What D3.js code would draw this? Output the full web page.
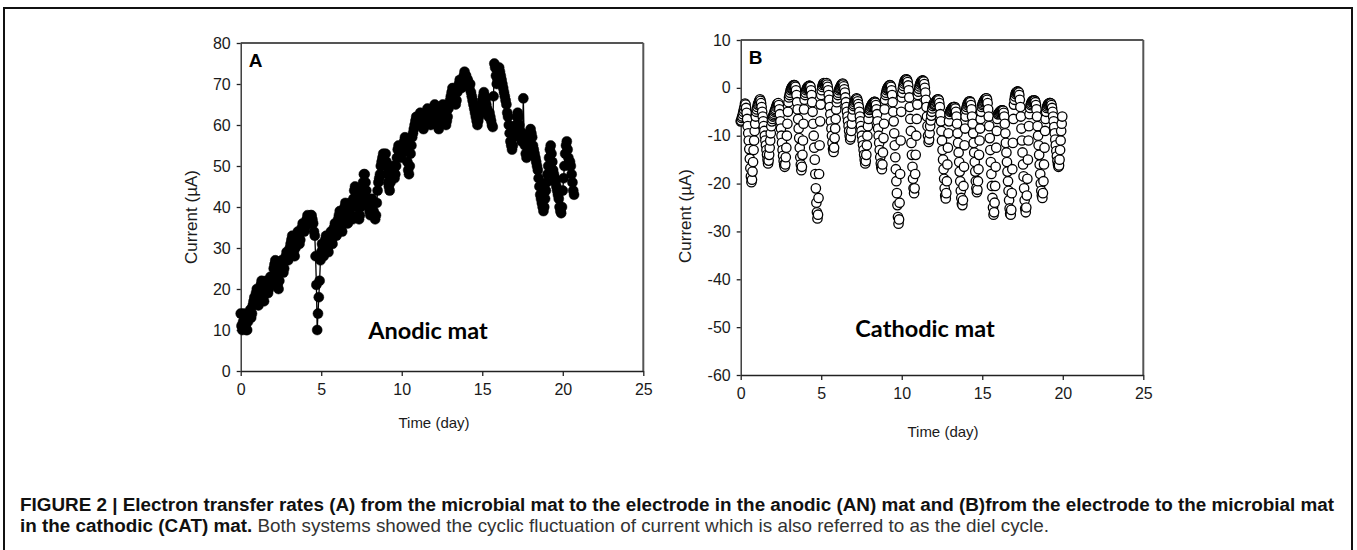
<!DOCTYPE html>
<html>
<head>
<meta charset="utf-8">
<script src="https://cdn.jsdelivr.net/npm/d3@7/dist/d3.min.js"></script>
<style>
  body { margin: 0; background: #fff; }
  svg { display: block; }
</style>
</head>
<body>
<svg id="fig" width="1357" height="550"></svg>
<script>
// Figure 2: electron transfer rates, anodic (A) and cathodic (B) mats.
// Current; sample i sits at t = i * step (days).
var STEP_A = 1 / 20;
var STEP_B = 1 / 30;

// panel A, anodic mat (uA), 20 samples per day
var anodicCurrent = [
  14,11,10,12,14,13,11,10,10,12,13,14,15,13,14,16,17,18,17,19,          // day 0
  20,18,16,17,19,21,22,20,18,17,19,21,22,21,19,20,22,23,22,21,          // day 1
  23,25,26,27,25,22,21,20,22,24,26,27,26,24,25,27,28,29,28,27,          // day 2
  29,30,31,32,33,31,29,28,30,32,33,34,33,31,32,34,35,36,35,34,          // day 3
  35,36,37,38,37,36,37,38,38,37,36,34,33,28,21,10,14,18,22,27,          // day 4 (drop)
  29,31,30,28,30,32,33,31,30,29,31,33,34,32,31,33,35,36,34,33,          // day 5
  35,37,38,39,37,35,34,36,38,40,41,39,37,36,38,40,41,40,38,37,          // day 6
  42,44,45,44,42,40,38,37,38,40,42,44,46,48,48,46,44,42,41,40,          // day 7
  39,38,40,42,41,39,38,37,38,41,44,46,47,48,50,51,52,53,52,50,          // day 8
  53,51,48,46,45,44,46,48,49,50,49,47,48,50,52,54,55,54,53,52,          // day 9
  53,54,55,56,57,56,54,51,49,48,50,53,55,57,58,59,60,61,62,61,          // day 10
  60,61,62,63,62,61,60,59,60,61,62,63,64,63,62,61,60,61,62,63,          // day 11
  64,65,64,62,61,60,59,60,62,63,64,65,64,63,61,60,61,62,64,65,          // day 12
  66,67,68,69,68,67,66,65,66,68,69,70,71,70,69,70,71,72,73,72,          // day 13
  72,71,71,70,69,70,68,67,66,65,64,63,62,61,60,61,62,63,64,65,          // day 14
  66,67,68,67,66,65,64,63,62,63,62,61,60,59.5,67,75,74,72,70,71,        // day 15
  73,74,73,72,71,70,69,68,67,66,65,63,62,60,58,56,55,54,55,57,          // day 16
  58,59,60,62,63,62,60,58,57,56,58,66.5,57,55,53,52,53,55,57,58,        // day 17
  59,58,57,55,54,53,52,51,50,49,47,45,43,42,41,40,39,40,42,44,          // day 18
  46,48,50,52,54,55,53,51,49,48,47,46,45,44,43,42,40,39,38.5,40,        // day 19
  44,47,50,53,55,56,54,52,50,51,50,48,46,44,43                          // day 20
];

// panel B, cathodic mat (uA), 30 samples per day
var cathodicCurrent = [
  -7,-6.8,-6.3,-6,-5.5,-5,-4.5,-4,-3.3,-3.5,-4.2,-5.2,-6.5,-8,-9.5,-11,-12.8,-14.8,-16.8,-18.5,-19.7,-19.2,-17.5,-15.5,-13,-11,-9,-7.5,-6,-5,
  -4.5,-4,-3.5,-3.2,-2.9,-2.6,-2.4,-2.7,-3.2,-4,-5,-6,-7,-8,-9,-10,-11,-12,-13,-14,-15,-15.8,-15.2,-14,-12.5,-11,-9.5,-8,-7,-6.5,
  -6,-5.7,-5.4,-5,-4.7,-4.4,-4,-3.7,-3.4,-3.3,-3.2,-3.6,-4.5,-5.5,-7,-8.5,-10,-11.5,-13,-14.2,-15.3,-16,-16.5,-16,-14.5,-12.5,-10,-7.5,-5,-3,
  -2,-1.5,-1,-0.5,-0.2,0,0.2,0.4,0.5,0.6,0.6,0.5,0.2,-0.5,-1.5,-3,-4.5,-6.5,-8.5,-10.5,-12.5,-14.5,-16,-17.2,-16.5,-14,-11,-7.5,-4.5,-2.5,
  -1.5,-1,-0.5,-0.2,0,0.2,0.3,0.4,0.4,0.4,0.2,-0.5,-1.5,-3,-5,-7.5,-10,-12.5,-15,-18,-21,-24,-26,-27.3,-26.5,-23,-18,-12,-7,-3.5,
  -1.5,-0.5,0.2,0.6,0.9,1,0.8,0.6,0.5,0.8,1,0.7,0.2,-0.5,-1.5,-2.5,-4,-5.5,-7,-8.5,-10,-11.5,-12.8,-13.4,-12.5,-10.5,-8.5,-6.5,-4.5,-3,
  -2.2,-1.5,-1,-0.5,-0.2,0,0.3,0.5,0.7,0.8,0.9,0.7,0.3,-0.3,-1,-2,-3,-4,-5,-6,-7,-8,-9,-10,-10.8,-10.3,-9,-7.5,-6,-4.5,
  -3.8,-3.4,-3,-2.7,-2.5,-2.3,-2.2,-2.4,-2.8,-3.4,-4,-5,-6,-7,-8,-9,-10,-11,-12,-13,-14,-15,-15.8,-15.3,-14,-12,-10,-8,-6.5,-5.2,
  -4.6,-4.3,-4,-3.8,-3.6,-3.4,-3.2,-3.1,-3,-2.9,-2.9,-3.1,-3.6,-4.5,-5.5,-7,-8.5,-10,-11.5,-13,-14.5,-15.8,-16.6,-17,-16,-13.5,-10.5,-7.5,-4.5,-2.5,
  -1.5,-1,-0.5,-0.2,0,0.2,0.4,0.5,0.6,0.5,0.2,-0.5,-1.5,-3,-5,-7,-9.5,-12,-14.5,-17,-19.5,-22,-24.5,-27,-28.4,-27.5,-24,-18,-11,-5,
  -2,-1,-0.2,0.4,0.9,1.3,1.6,1.7,1.8,1.8,1.6,1.2,0.5,-0.5,-2,-4,-6.5,-9,-11.5,-14,-16.5,-19,-21,-22,-21,-18,-14,-10,-6.5,-3.5,
  -1.5,-0.8,-0.2,0.3,0.7,1,1.2,1.4,1.5,1.5,1.5,1.3,0.8,0,-1,-2.5,-4,-6,-8,-10,-11.3,-10.8,-9.5,-8,-6.8,-5.8,-5,-4.3,-3.8,-3.4,
  -3.2,-3.5,-3.3,-3,-2.8,-2.6,-2.5,-2.4,-2.4,-2.6,-3.2,-4,-5.5,-7,-9,-11,-13,-15,-17,-19,-21,-22.5,-23.1,-22,-19.5,-16,-12.5,-9.5,-7,-5.5,
  -5,-4.8,-4.6,-4.4,-4.2,-4.1,-4,-4,-4,-4,-4.3,-5,-6,-7.5,-9.5,-11.5,-13.5,-15.5,-17.5,-19.5,-21.5,-23,-24.2,-24.5,-23.5,-20.5,-16.5,-12,-8.5,-6,
  -4.5,-4,-3.6,-3.3,-3.1,-2.9,-2.8,-2.8,-3,-3.6,-4.5,-6,-7.5,-9.5,-11.5,-13.5,-15.5,-17.5,-19.5,-21,-21.8,-21.3,-19.5,-17,-14,-11,-8.5,-6.5,-5,-4,
  -3.6,-3.3,-3,-2.8,-2.6,-2.4,-2.3,-2.2,-2.2,-2.5,-3.2,-4.5,-6,-8,-10.5,-13,-15.5,-18,-20.5,-23,-25,-26.5,-26,-24,-20.5,-16.5,-12.5,-9,-6.5,-5.5,
  -5.5,-5.3,-5.1,-5,-4.9,-4.8,-4.7,-4.7,-4.7,-4.8,-5.2,-6,-7.5,-9.5,-11.5,-13.5,-15.5,-17.5,-19.5,-21.5,-23.5,-25.2,-26.3,-26.5,-25.5,-22,-17,-11.5,-6.5,-3.5,
  -2.5,-1.8,-1.3,-1,-0.9,-0.8,-0.8,-0.8,-1,-1.5,-2.5,-4,-6,-8.5,-11,-13.5,-16,-18.5,-21,-23.5,-25.2,-26,-25,-22.5,-19,-15,-11,-8,-5.5,-4.2,
  -3.6,-3.3,-3,-2.8,-2.7,-2.6,-2.6,-2.6,-2.7,-3,-3.6,-4.5,-6,-8,-10,-12,-14,-16,-18,-20,-21.5,-22.5,-23,-22,-19.5,-16,-12.5,-9,-6.5,-5,
  -4.2,-3.9,-3.6,-3.4,-3.3,-3.2,-3.2,-3.2,-3.3,-3.6,-4.2,-5,-6,-7,-8.2,-9.5,-10.8,-12,-13.2,-14.3,-15.3,-16,-16.5,-16.2,-15,-13,-11,-9,-7.5,-6
];

var timeTicks = [0, 5, 10, 15, 20, 25];
var anodicTicks = [0, 10, 20, 30, 40, 50, 60, 70, 80];
var cathodicTicks = [-60, -50, -40, -30, -20, -10, 0, 10];

var captionBold1 = "FIGURE 2 | Electron transfer rates (A) from the microbial mat to the electrode in the anodic (AN) mat and (B)from the electrode to the microbial mat";
var captionBold2 = "in the cathodic (CAT) mat.";
var captionRest = " Both systems showed the cyclic fluctuation of current which is also referred to as the diel cycle.";

var svg = d3.select("#fig");
var SANS = "'Liberation Sans', Arial, sans-serif";
var INK = "#1a1a1a";
var plain = function (d) { return String(d); }; // hyphen minus, as in the original

// outer figure frame
svg.append("rect").attr("x", 4).attr("y", 8).attr("width", 1348).attr("height", 580)
  .attr("fill", "none").attr("stroke", "#111").attr("stroke-width", 2);

function panel(o) {
  var x = d3.scaleLinear().domain([0, 25]).range([o.left, o.right]);
  var y = d3.scaleLinear().domain(o.yDomain).range([o.bottom, o.top]);
  var pts = o.values.map(function (v, i) { return [i * o.step, v]; });
  var g = svg.append("g");

  // box top/right (grey), axes left/bottom (black)
  g.append("line").attr("x1", o.left).attr("x2", o.right).attr("y1", o.top).attr("y2", o.top)
    .attr("stroke", "#555").attr("stroke-width", 2);
  g.append("line").attr("x1", o.right).attr("x2", o.right).attr("y1", o.top).attr("y2", o.bottom)
    .attr("stroke", "#555").attr("stroke-width", 2);

  var ax = g.append("g").attr("transform", "translate(0," + o.bottom + ")")
    .call(d3.axisBottom(x).tickValues(timeTicks).tickFormat(plain).tickSize(5).tickSizeOuter(0).tickPadding(8));
  var ay = g.append("g").attr("transform", "translate(" + o.left + ",0)")
    .call(d3.axisLeft(y).tickValues(o.yTicks).tickFormat(plain).tickSize(4).tickSizeOuter(0).tickPadding(6));
  [ax, ay].forEach(function (a) {
    a.selectAll("path,line").attr("stroke", "#222").attr("stroke-width", 1.3);
    a.selectAll("text").attr("font-family", SANS).attr("font-size", 16).attr("fill", INK);
  });

  if (o.filled) {
    g.append("path").attr("d", d3.line().x(function (d) { return x(d[0]); }).y(function (d) { return y(d[1]); })(pts))
      .attr("fill", "none").attr("stroke", "#000").attr("stroke-width", 1.3);
  }
  g.selectAll("circle.pt").data(pts).enter().append("circle").attr("class", "pt")
    .attr("cx", function (d) { return x(d[0]); }).attr("cy", function (d) { return y(d[1]); })
    .attr("r", o.filled ? 5 : 4.7)
    .attr("fill", o.filled ? "#000" : "#fff").attr("stroke", "#000").attr("stroke-width", o.filled ? 0.5 : 1.3);

  // labels
  g.append("text").attr("x", o.left + 8).attr("y", o.top + 24).attr("font-family", SANS)
    .attr("font-weight", 700).attr("font-size", 19).attr("fill", "#000").text(o.letter);
  g.append("text").attr("x", o.tagX).attr("y", o.tagY).attr("text-anchor", "middle")
    .attr("font-family", "Lato, 'Open Sans', sans-serif").attr("font-weight", 700).attr("font-size", 23.5)
    .attr("fill", "#000").text(o.tag);
  g.append("text").attr("transform", "translate(" + o.yTitleX + "," + o.yTitleY + ") rotate(-90)")
    .attr("text-anchor", "middle").attr("font-family", SANS).attr("font-size", 17).attr("fill", INK)
    .text("Current (\u00b5A)");
  g.append("text").attr("x", o.xTitleX).attr("y", o.xTitleY).attr("text-anchor", "middle")
    .attr("font-family", SANS).attr("font-size", 15).attr("fill", INK).text("Time (day)");
}

panel({ left: 240.7, right: 643.3, top: 43, bottom: 371, yDomain: [0, 80], yTicks: anodicTicks,
  values: anodicCurrent, step: STEP_A, filled: true, letter: "A", tag: "Anodic mat", tagX: 428, tagY: 339,
  yTitleX: 197, yTitleY: 217, xTitleX: 434, xTitleY: 428 });
panel({ left: 740.7, right: 1143.3, top: 40, bottom: 375, yDomain: [-60, 10], yTicks: cathodicTicks,
  values: cathodicCurrent, step: STEP_B, filled: false, letter: "B", tag: "Cathodic mat", tagX: 925, tagY: 337,
  yTitleX: 691, yTitleY: 216, xTitleX: 943, xTitleY: 437 });

// caption
var c1 = svg.append("text").attr("x", 20).attr("y", 511).attr("font-family", SANS).attr("font-weight", 700)
  .attr("font-size", 14).attr("fill", "#111").text(captionBold1);
var fs = 14 * 1315 / c1.node().getComputedTextLength();
c1.attr("font-size", fs);
var c2 = svg.append("text").attr("x", 20).attr("y", 532).attr("font-family", SANS).attr("font-size", fs).attr("fill", "#111");
c2.append("tspan").attr("font-weight", 700).text(captionBold2);
c2.append("tspan").attr("fill", "#333").text(captionRest);
</script>
</body>
</html>
